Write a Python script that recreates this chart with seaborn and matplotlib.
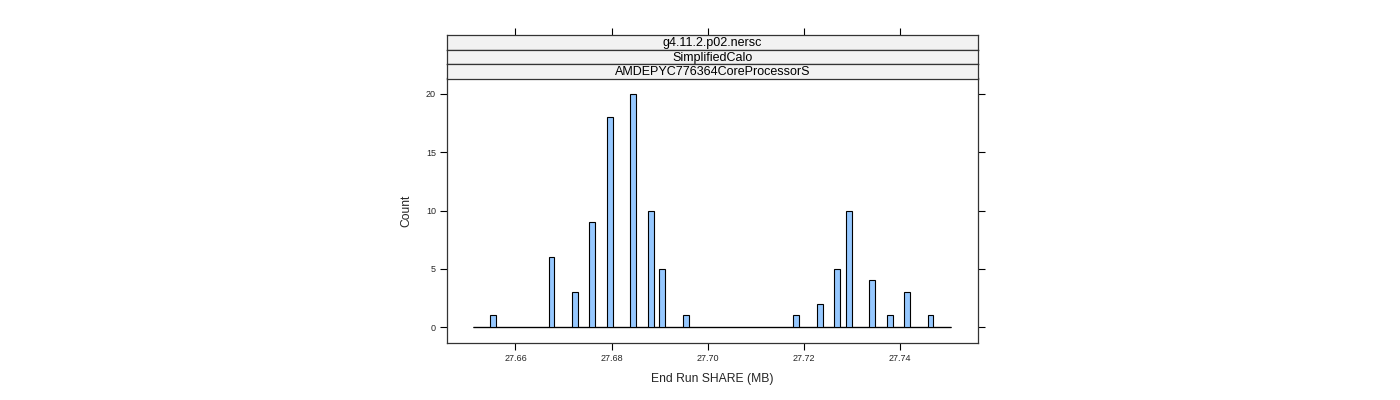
import numpy as np
import pandas as pd
import matplotlib
matplotlib.use("Agg")
import matplotlib.pyplot as plt
import seaborn as sns

# ---- data ----
bin_start = 27.6511
bin_width = 0.0012147
n_bins = 82
bin_index = [3, 13, 17, 20, 23, 27, 30, 32, 36, 55, 59, 62, 64, 68, 71, 74, 78]
counts = [1, 6, 3, 9, 18, 20, 10, 5, 1, 1, 2, 5, 10, 4, 1, 3, 1]
strip_labels = ["g4.11.2.p02.nersc", "SimplifiedCalo", "AMDEPYC776364CoreProcessorS"]
x_ticks = [27.66, 27.68, 27.70, 27.72, 27.74]
y_ticks = [0, 5, 10, 15, 20]

edges = [bin_start + bin_width * i for i in range(n_bins + 1)]
centers = [bin_start + (i + 0.5) * bin_width for i in bin_index]
df = pd.DataFrame({"share": centers, "n": counts})

sns.set_theme(style="white")
plt.rcParams["font.family"] = ["Liberation Sans", "DejaVu Sans"]

fig = plt.figure(figsize=(14, 4), dpi=100)
L, R = 447 / 1400, 978 / 1400
ax = fig.add_axes([L, 1 - 343 / 400, R - L, (343 - 78) / 400])

# baseline spanning all bins (empty bins drawn as zero-height bars in lattice)
ax.plot([edges[0], edges[-1]], [0, 0], color="black", lw=0.9, zorder=1,
        solid_capstyle="butt")
sns.histplot(data=df, x="share", weights="n", bins=edges, ax=ax,
             color="#96C8FF", edgecolor="black", linewidth=0.8, alpha=1.0,
             zorder=2)

xlim = (27.64573, 27.75635)
ax.set_xlim(*xlim)
ax.set_ylim(-1.37, 21.37)
ax.set_xticks(x_ticks)
ax.set_xticklabels([f"{t:.2f}" for t in x_ticks])
ax.set_yticks(y_ticks)
ax.tick_params(axis="both", which="both", direction="out", length=5, width=0.8,
               labelsize=6.5, color="black", pad=3)
ax.tick_params(axis="y", right=True, left=True, labelright=False)
ax.tick_params(axis="x", bottom=True, top=False)
for s in ax.spines.values():
    s.set_color("#333333")
    s.set_linewidth(0.9)
ax.set_xlabel("End Run SHARE (MB)", fontsize=8.7, labelpad=7)
ax.set_ylabel("Count", fontsize=8.7, labelpad=10)
ax.grid(False)

# strips
strip_tops = [35, 49.5, 64]
strip_h = 14.5
for k, (lab, top) in enumerate(zip(strip_labels, strip_tops)):
    sax = fig.add_axes([L, 1 - (top + strip_h) / 400, R - L, strip_h / 400])
    sax.set_facecolor("#F2F2F2")
    sax.set_xlim(*xlim)
    sax.set_ylim(0, 1)
    sax.set_yticks([])
    if k == 0:
        sax.set_xticks(x_ticks)
        sax.tick_params(axis="x", bottom=False, top=True, labelbottom=False,
                        labeltop=False, direction="out", length=5, width=0.8,
                        color="black")
    else:
        sax.set_xticks([])
    for s in sax.spines.values():
        s.set_color("#333333")
        s.set_linewidth(0.9)
    sax.text(0.5, 0.42, lab, transform=sax.transAxes, ha="center", va="center",
             fontsize=9, color="black")

fig.savefig("out.png", dpi=100)
